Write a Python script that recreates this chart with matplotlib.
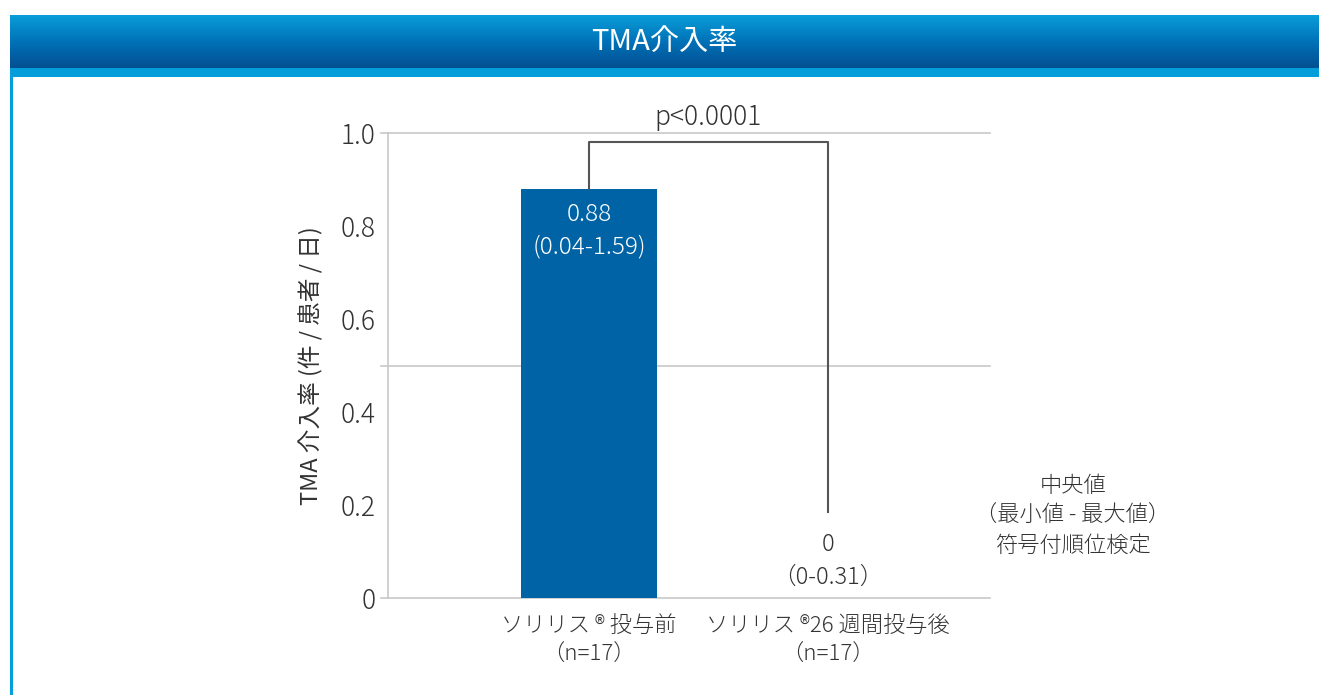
import numpy as np
import matplotlib
matplotlib.use("Agg")
import matplotlib.pyplot as plt
from matplotlib.colors import LinearSegmentedColormap

plt.rcParams['font.family'] = ['Noto Sans CJK JP', 'DejaVu Sans']
plt.rcParams['font.weight'] = 'light'

title = "TMA介入率"
categories = ["ソリリス \u00ae 投与前\n（n=17）", "ソリリス \u00ae26 週間投与後\n（n=17）"]
values = [0.88, 0.0]
value_labels = ["0.88\n(0.04-1.59)", "0\n（0-0.31）"]
ylabel = "TMA 介入率 (件 / 患者 / 日)"
ptext = "p<0.0001"
note = "中央値\n（最小値 - 最大値）\n符号付順位検定"
yticks = [0, 0.2, 0.4, 0.6, 0.8, 1.0]
yticklabels = ["0", "0.2", "0.4", "0.6", "0.8", "1.0"]
grid_y = [0, 0.5, 1.0]

W, H = 1319, 695
fig = plt.figure(figsize=(W / 100, H / 100), dpi=100)
txt = "#333333"

# header gradient
hax = fig.add_axes([10 / W, 1 - 68 / H, 1 - 10 / W, 53 / H])
cmap = LinearSegmentedColormap.from_list("hdr", ["#0a9dd9", "#0072b8", "#044f92"])
hax.imshow(np.linspace(0, 1, 100).reshape(-1, 1), aspect="auto", cmap=cmap,
           extent=[0, 1, 0, 1])
hax.set_axis_off()
hax.text(0.5, 0.5, title, color="white", fontsize=21, ha="center", va="center",
         transform=hax.transAxes, fontweight="normal")
fig.add_artist(plt.Rectangle((10 / W, 1 - 77 / H), 1 - 10 / W, 9 / H,
                             transform=fig.transFigure, color="#069ddb", lw=0))
fig.add_artist(plt.Line2D([11 / W, 11 / W], [0, 1 - 77 / H], transform=fig.transFigure,
                          color="#069ddb", lw=2.2))

ax = fig.add_axes([388 / W, 1 - 598 / H, (990 - 388) / W, (598 - 133) / H])
x = np.arange(len(categories))
ax.bar(x, values, width=0.57, color="#0063a6", zorder=3)
ax.set_xlim(-0.841, 1.678)
ax.set_ylim(0, 1.0)
for s in ["top", "right", "bottom"]:
    ax.spines[s].set_visible(False)
ax.spines["left"].set_color("#c8c8c8")
ax.spines["left"].set_linewidth(1.2)
for g in grid_y:
    ax.axhline(g, color="#c8c8c8", lw=1.2, zorder=1, clip_on=False)
    ax.plot([-0.87, -0.841], [g, g], color="#c8c8c8", lw=1.2, clip_on=False)
ax.set_yticks(yticks)
ax.set_yticklabels(yticklabels, fontsize=19, color=txt)
ax.tick_params(axis="y", length=0, pad=9)
ax.set_xticks(x)
ax.set_xticklabels(categories, fontsize=16, color=txt, linespacing=1.45)
ax.tick_params(axis="x", length=0, pad=12)
ax.set_ylabel(ylabel, fontsize=17, color=txt, labelpad=12)

ax.text(x[0], 0.79, value_labels[0], color="white", fontsize=17.5, ha="center",
        va="center", linespacing=1.4)
ax.text(x[1], 0.08, value_labels[1], color=txt, fontsize=17, ha="center",
        va="center", linespacing=1.4)

# bracket
ax.plot([x[0], x[0], x[1], x[1]], [values[0], 0.98, 0.98, 0.185],
        color="#555555", lw=1.5, zorder=4)
ax.text((x[0] + x[1]) / 2, 1.005, ptext, fontsize=19, color=txt, ha="center",
        va="bottom")

fig.text(1073 / W, 1 - 516 / H, note, fontsize=16, color=txt, ha="center",
         va="center", linespacing=1.45)

fig.savefig("out.png", dpi=100)
